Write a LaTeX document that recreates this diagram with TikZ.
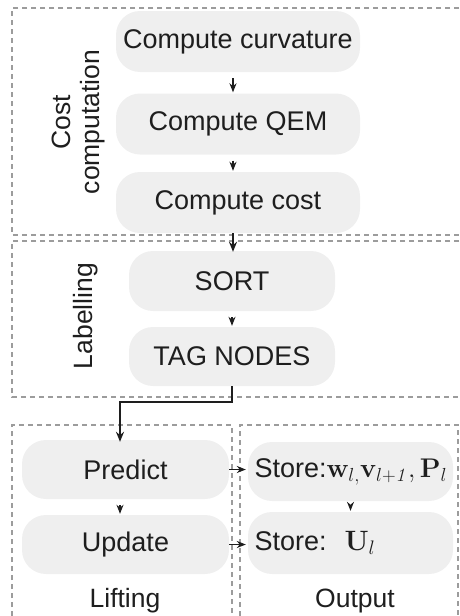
\RequirePackage{fix-cm}
\documentclass[tikz,border=0pt]{standalone}
\usepackage[no-math]{fontspec}
\setmainfont{Liberation Sans}
\usetikzlibrary{arrows.meta}
\definecolor{boxfill}{HTML}{EFEFEF}
\definecolor{framegray}{HTML}{9C9C9C}
\definecolor{ink}{HTML}{1E1E1E}
\begin{document}
\begin{tikzpicture}[x=1pt,y=-1pt,
  stagebox/.style={fill=boxfill, rounded corners=24pt, minimum height=61pt,
    inner sep=0pt, text=ink, font=\fontsize{27}{30}\selectfont},
  framebox/.style={draw=framegray, line width=1.3pt, dash pattern=on 5pt off 4pt},
  arr/.style={-{Stealth[length=9pt,width=7pt]}, line width=1.3pt, draw=ink,
    shorten <=6pt, shorten >=1pt},
  harr/.style={-{Stealth[length=9pt,width=7pt]}, line width=1.3pt, draw=ink},
  boldarr/.style={-{Stealth[length=10pt,width=8pt]}, line width=2.2pt, draw=ink},
  caption/.style={text=ink, font=\fontsize{26.5}{29}\selectfont, align=center}]
\useasboundingbox (0,0) rectangle (459,616);

% dashed group frames
\draw[framebox] (459,8) -- (12,8) -- (12,235) -- (459,235);
\draw[framebox] (459,241) -- (12,241) -- (12,397) -- (459,397);
\draw[framebox] (12,616) -- (12,425) -- (232,425) -- (232,616);
\draw[framebox] (240,616) -- (240,425) -- (458,425) -- (458,616);

% cost computation stage
\node[stagebox, minimum width=244pt] (curv) at (238,41.5) {Compute curvature};
\node[stagebox, minimum width=244pt] (qem)  at (238,124)  {Compute QEM};
\node[stagebox, minimum width=244pt] (cost) at (238,202.5) {Compute cost};
\node[caption, rotate=90] (costlbl) at (78,122) {Cost\\computation};

% labelling stage
\node[stagebox, minimum width=206pt, minimum height=60pt] (sort) at (232,281) {SORT};
\node[stagebox, minimum width=206pt, minimum height=59pt] (tag)  at (232,356.5) {TAG NODES};
\node[caption, rotate=90] (labellbl) at (86,316) {Labelling};

% lifting stage
\node[stagebox, minimum width=207pt, minimum height=59pt] (predict) at (125.5,469.5) {Predict};
\node[stagebox, minimum width=207pt, minimum height=59pt] (update)  at (125.5,544.5) {Update};
\node[caption, anchor=base] (liftlbl) at (125,607) {Lifting};

% output stage
\node[stagebox, minimum width=205pt, minimum height=59pt, text width=192pt, align=left]
  (storew) at (350.5,471.5)
  {Store:{\fontsize{27}{30}\selectfont$\mathbf{w}_{l,}\mathbf{v}_{l+\mathit{1}},\mathbf{P}_l$}};
\node[stagebox, minimum width=205pt, minimum height=62pt, text width=192pt, align=left]
  (storeu) at (350.5,543)
  {Store:\ \ {\fontsize{28}{30}\selectfont$\mathbf{U}_l$}};
\node[caption, anchor=base] (outlbl) at (355,607) {Output};

% flow
\coordinate (ax) at (233,0);
\coordinate (bend) at (120,402);
\draw[arr] (curv.south -| ax) -- (qem.north -| ax);
\draw[arr] (qem.south -| ax) -- (cost.north -| ax);
\draw[boldarr] (cost.south -| ax) -- ([yshift=-1pt]sort.north -| ax);
\draw[arr] (sort.south) -- (tag.north);
\draw[boldarr] (tag.south) |- (bend) -- ([yshift=-2pt]bend |- predict.north);
\draw[arr] (predict.south -| bend) -- (update.north -| bend);
\draw[arr] (storew.south) -- (storeu.north);
\draw[harr] (predict.east) -- ([xshift=-2pt]storew.west |- predict.east);
\draw[harr] (update.east) -- ([xshift=-2pt]storeu.west |- update.east);
\end{tikzpicture}
\end{document}
